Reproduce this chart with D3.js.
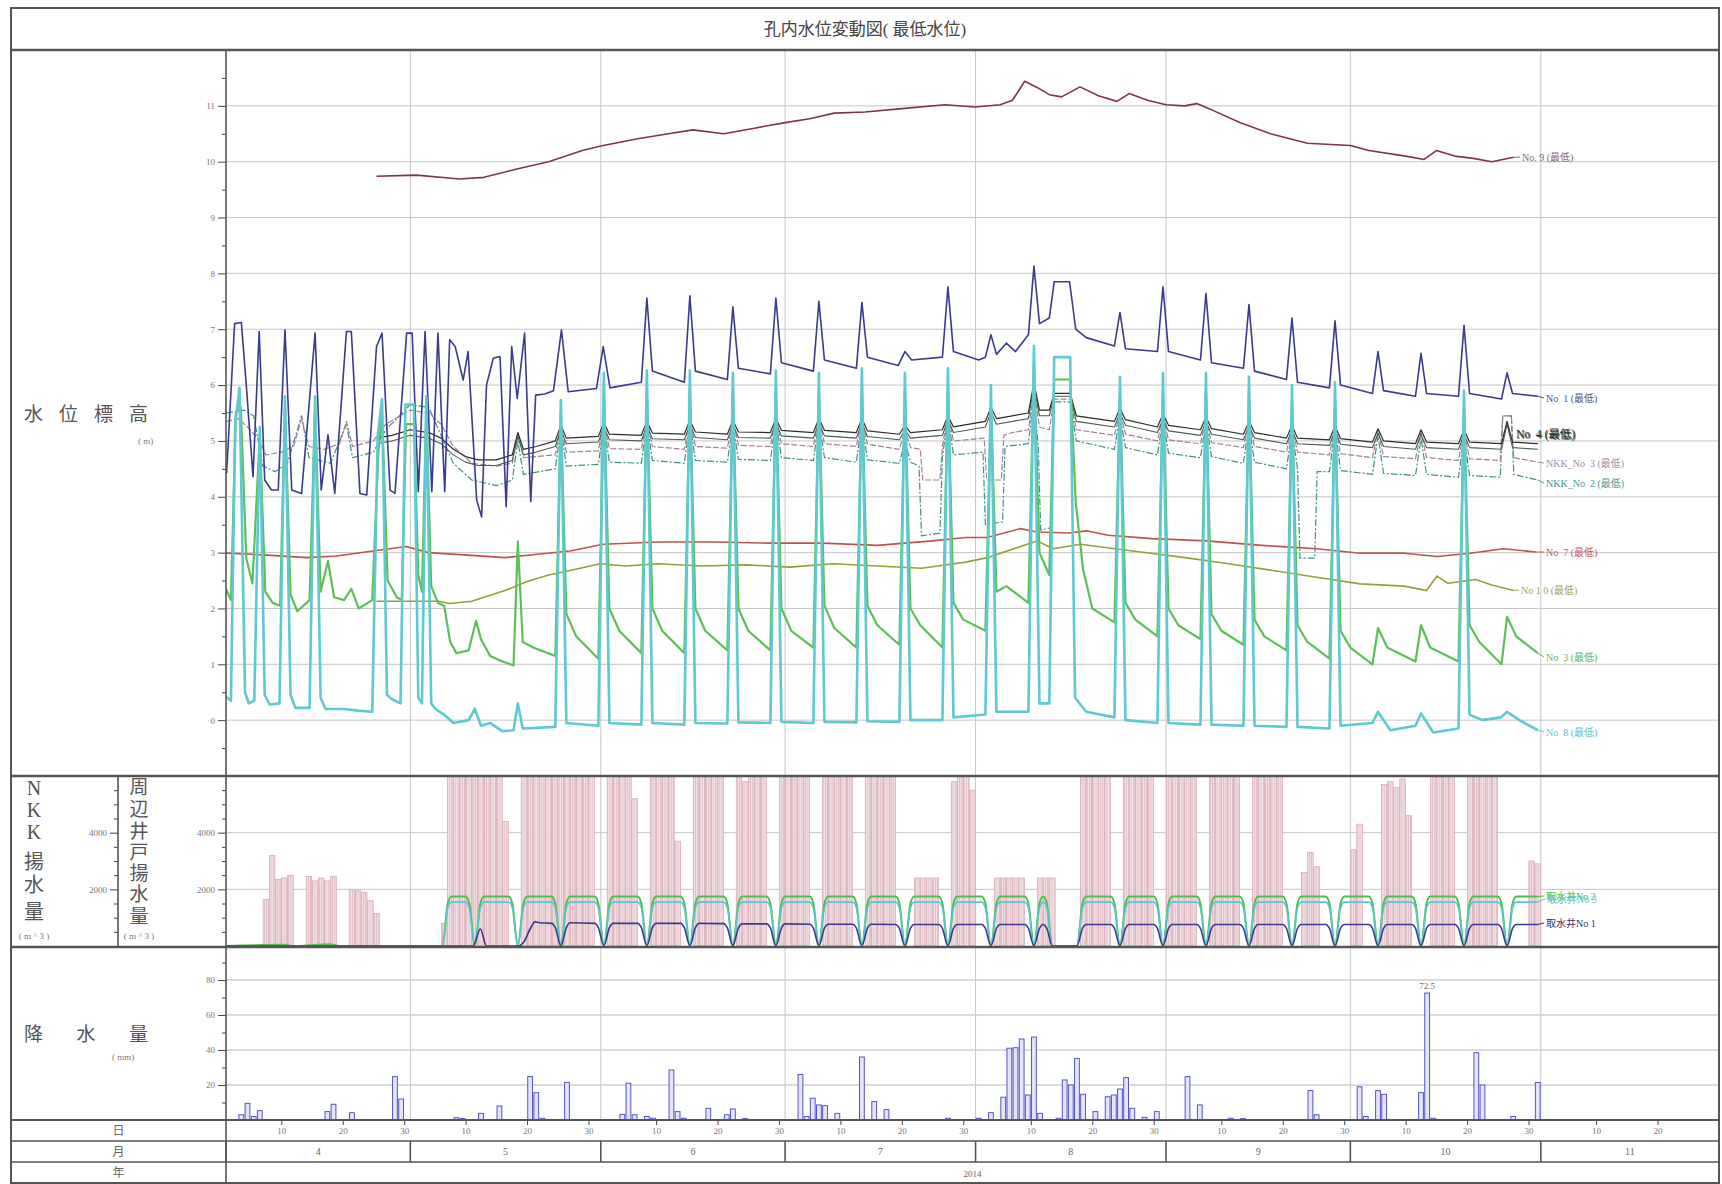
<!DOCTYPE html>
<html>
<head>
<meta charset="utf-8">
<script src="https://cdn.jsdelivr.net/npm/d3@7"></script>
<style>
  body { margin: 0; background: #fff; }
  svg text { font-family: "Liberation Serif", "Noto Sans CJK JP", serif; }
  .lbl { white-space: pre; }
</style>
</head>
<body>
<div id="chart"></div>
<script>
const topTicks = [0, 1, 2, 3, 4, 5, 6, 7, 8, 9, 10, 11];
const topMinor = [-0.5, 0.5, 1.5, 2.5, 3.5, 4.5, 5.5, 6.5, 7.5, 8.5, 9.5, 10.5, 11.5];
const midTicks = [2000, 4000];
const midMinor = [500, 1000, 1500, 2500, 3000, 3500, 4500, 5000, 5500];
const rainTicks = [20, 40, 60, 80];
const rainMinor = [10, 30, 50, 70, 90];
const dayLabels = [10, 20, 30];
const yearLabel = '2014';

const no9 = [[24.5,9.74],[31,9.76],[38,9.69],[42,9.72],[47,9.86],[52.5,10.0],[58,10.2],[61,10.28],[67,10.41],[72,10.5],[76,10.57],[81,10.5],[86,10.6],[91,10.7],[95,10.77],[99,10.87],[104,10.89],[110,10.95],[117,11.02],[122,10.98],[126,11.02],[128,11.1],[130,11.44],[132,11.33],[134,11.2],[136,11.16],[139,11.34],[142,11.18],[145,11.08],[147,11.22],[150,11.1],[153,11.02],[156,11.0],[158,11.04],[160,10.95],[165,10.7],[170,10.5],[176,10.33],[183,10.29],[186,10.2],[192,10.1],[195,10.04],[197,10.2],[200,10.1],[203,10.06],[206,10.0],[209.6,10.08]];

const no1 = [[0.1,4.42],[1.4,7.1],[2.5,7.12],[3.3,6.0],[4.4,4.36],[5.4,6.96],[6.3,4.3],[7.4,4.12],[8.5,4.12],[9.6,6.99],[10.7,4.12],[12.3,4.06],[14.5,6.93],[15.5,4.12],[16.6,5.11],[17.7,4.06],[19.6,6.96],[20.4,6.96],[21.8,4.06],[22.9,4.03],[24.5,6.69],[25.4,6.93],[26.7,4.12],[27.5,4.06],[29.4,6.93],[30.3,6.93],[31.3,4.09],[32.4,6.96],[33.5,4.09],[34.5,6.93],[35.6,4.09],[36.4,6.81],[37.3,6.69],[38.6,6.09],[39.4,6.6],[40.8,3.94],[41.6,3.64],[42.4,6.0],[43.5,6.48],[44.6,6.51],[45.6,3.82],[46.5,6.69],[47.4,5.76],[48.6,6.93],[49.6,3.91],[50.4,5.82],[51.9,5.84],[53.3,5.9],[54.6,6.99],[55.7,5.88],[60.3,5.94],[61.4,6.69],[62.5,5.95],
  [67.6,6.05],[68.5,7.56],[69.4,6.25],[74.6,6.05],[75.5,7.6],[76.4,6.25],[81.6,6.1],[82.5,7.4],[83.4,6.3],[88.6,6.2],[89.5,7.56],[90.4,6.4],[95.6,6.25],[96.5,7.5],[97.4,6.45],[102.6,6.3],[103.5,7.48],[104.4,6.5],[109.4,6.35],[110.5,6.6],[111.6,6.45],[116.6,6.5],[117.5,7.76],[118.4,6.6],
  [122.5,6.45],[123.6,6.5],[124.5,6.9],[125.4,6.55],[127,6.75],[128.5,6.6],[130.6,6.9],[131.5,8.13],[132.4,7.1],[134,7.2],[134.8,7.85],[137.3,7.85],[138.3,7.0],[140,6.85],
  [144.6,6.7],[145.5,7.3],[146.4,6.65],[151.6,6.6],[152.5,7.76],[153.4,6.6],[158.6,6.45],[159.5,7.64],[160.4,6.4],[165.6,6.3],[166.5,7.44],[167.4,6.25],[172.6,6.1],[173.5,7.2],[174.4,6.05],[179.6,5.95],[180.5,7.15],[181.4,6.0],[186.6,5.85],[187.5,6.6],[188.4,5.9],[193.6,5.8],[194.5,6.57],[195.4,5.85],[200.6,5.8],[201.5,7.07],[202.4,5.85],[207.6,5.75],[208.5,6.22],[209.4,5.85],[213.5,5.8]];

const no4 = [[24.5,5.05],[27,5.1],[30,5.2],[33,5.15],[35,5.05],[37,4.85],[39,4.72],[41,4.66],[44,4.66],[46.6,4.75],[47.5,5.15],[48.4,4.85],[50.5,4.9],[53.6,5.0],[54.5,5.28],[55.4,5.05],
  [60.6,5.08],[61.5,5.33],[62.4,5.12],[67.6,5.1],[68.5,5.35],[69.4,5.14],[74.6,5.12],[75.5,5.37],[76.4,5.16],[81.6,5.12],[82.5,5.37],[83.4,5.16],[88.6,5.15],[89.5,5.4],[90.4,5.19],[95.6,5.15],[96.5,5.4],[97.4,5.19],[102.6,5.15],[103.5,5.4],[104.4,5.18],[109.6,5.12],[110.5,5.28],[111.4,5.15],[116.6,5.2],[117.5,5.45],[118.4,5.25],[123.6,5.35],[124.5,5.6],[125.4,5.4],[130.6,5.5],[131.5,6.05],[132.4,5.55],[134,5.55],[134.8,5.85],[137.4,5.85],[138.4,5.45],
  [144.6,5.35],[145.5,5.58],[146.4,5.38],[151.6,5.25],[152.5,5.48],[153.4,5.28],[158.6,5.2],[159.5,5.43],[160.4,5.22],[165.6,5.12],[166.5,5.35],[167.4,5.15],[172.6,5.05],[173.5,5.28],[174.4,5.05],[179.6,5.02],[180.5,5.27],[181.4,5.04],[186.6,4.98],[187.5,5.22],[188.4,5.0],[193.6,4.95],[194.5,5.2],[195.4,4.98],[200.6,4.95],[201.5,5.2],[202.4,4.98],[207.6,4.95],[208.5,5.35],[209.4,4.98],[213.5,4.95]];

const no5 = [[24.5,4.95],[27,5.0],[30,5.1],[33,5.05],[35,4.95],[37,4.75],[39,4.62],[41,4.56],[44,4.56],[46.6,4.65],[47.5,5.08],[48.4,4.75],[50.5,4.8],[53.6,4.9],[54.5,5.2],[55.4,4.95],
  [60.6,4.98],[61.5,5.25],[62.4,5.02],[67.6,5.0],[68.5,5.27],[69.4,5.04],[74.6,5.02],[75.5,5.29],[76.4,5.06],[81.6,5.02],[82.5,5.29],[83.4,5.06],[88.6,5.05],[89.5,5.32],[90.4,5.09],[95.6,5.05],[96.5,5.32],[97.4,5.09],[102.6,5.05],[103.5,5.32],[104.4,5.08],[109.6,5.02],[110.5,5.2],[111.4,5.05],[116.6,5.1],[117.5,5.38],[118.4,5.15],[123.6,5.25],[124.5,5.52],[125.4,5.3],[130.6,5.4],[131.5,5.98],[132.4,5.45],[134,5.45],[134.8,5.8],[137.4,5.8],[138.4,5.35],
  [144.6,5.25],[145.5,5.5],[146.4,5.28],[151.6,5.15],[152.5,5.4],[153.4,5.18],[158.6,5.1],[159.5,5.35],[160.4,5.12],[165.6,5.02],[166.5,5.27],[167.4,5.05],[172.6,4.95],[173.5,5.2],[174.4,4.95],[179.6,4.92],[180.5,5.19],[181.4,4.94],[186.6,4.88],[187.5,5.14],[188.4,4.9],[193.6,4.85],[194.5,5.12],[195.4,4.88],[200.6,4.85],[201.5,5.12],[202.4,4.88],[207.6,4.85],[208.5,5.3],[209.4,4.88],[213.5,4.85]];

const nkk3 = [[0,5.35],[2,5.4],[3.5,5.25],[5.5,5.0],[6.5,4.75],[9,4.8],[11,4.9],[12.3,5.4],[13.5,4.9],[16,4.85],[18.5,4.95],[19.6,5.35],[20.6,4.9],[24,5.0],[26,5.3],[30,5.55],[33,5.5],[35,5.3],[37,4.9],[40,4.6],[44,4.55],[46.6,4.6],[47.5,5.15],[48.4,4.7],[53.6,4.75],[54.5,5.3],[55.4,4.8],
  [60.6,4.82],[61.5,5.35],[62.4,4.86],[67.6,4.85],[68.5,5.4],[69.4,4.9],[74.6,4.85],[75.5,5.4],[76.4,4.9],[81.6,4.87],[82.5,5.38],[83.4,4.92],[88.6,4.9],[89.5,5.42],[90.4,4.95],[95.6,4.9],[96.5,5.42],[97.4,4.95],[102.6,4.9],[103.5,5.4],[104.4,4.94],[109.6,4.85],[110.5,5.2],[111.4,4.88],[113,4.85],[113.4,4.3],[116.2,4.3],[116.6,4.9],[117.5,5.5],[118.4,5.0],
  [123.4,5.05],[123.8,4.3],[126.2,4.3],[126.6,5.1],[128,5.15],[130.6,5.2],[131.5,5.9],[132.4,5.25],[134,5.2],[134.8,5.75],[137.4,5.75],[138.4,5.2],
  [144.6,5.1],[145.5,5.5],[146.4,5.12],[151.6,5.0],[152.5,5.45],[153.4,5.02],[158.6,4.95],[159.5,5.4],[160.4,4.97],[165.6,4.88],[166.5,5.35],[167.4,4.9],[172.6,4.8],[173.5,5.25],[174.4,4.8],[179.6,4.75],[180.5,5.3],[181.4,4.77],[186.6,4.7],[187.5,5.2],[188.4,4.72],[193.6,4.68],[194.5,5.15],[195.4,4.7],[200.6,4.65],[201.5,5.2],[202.4,4.68],[207.4,4.65],[207.8,5.45],[209.2,5.45],[209.6,4.7],[213.5,4.62]];

const nkk2 = [[0,5.5],[3,5.55],[4.5,5.45],[6,4.55],[8,4.45],[10,4.6],[12.3,5.45],[13.5,4.7],[17,4.6],[19.6,5.3],[20.6,4.7],[24,4.8],[26,5.2],[30,5.65],[33,5.6],[35,5.1],[37,4.6],[40,4.3],[44,4.2],[46.6,4.3],[47.5,5.0],[48.4,4.4],[53.6,4.5],[54.5,5.25],[55.4,4.55],
  [60.6,4.58],[61.5,5.3],[62.4,4.62],[67.6,4.6],[68.5,5.35],[69.4,4.65],[74.6,4.6],[75.5,5.35],[76.4,4.65],[81.6,4.62],[82.5,5.3],[83.4,4.67],[88.6,4.65],[89.5,5.38],[90.4,4.7],[95.6,4.65],[96.5,5.38],[97.4,4.7],[102.6,4.62],[103.5,5.35],[104.4,4.66],[109.6,4.6],[110.5,5.0],[111.4,4.62],[112.8,4.55],[113.2,3.3],[116.2,3.35],[116.6,4.7],[117.5,5.45],[118.4,4.75],
  [123.2,4.8],[123.6,3.5],[126.4,3.55],[126.8,4.9],[130.6,4.95],[131.5,5.8],[132.2,4.9],[132.6,3.4],[134.4,3.45],[134.8,5.7],[137.4,5.7],[138.4,5.0],
  [144.6,4.85],[145.5,5.45],[146.4,4.88],[151.6,4.75],[152.5,5.4],[153.4,4.78],[158.6,4.7],[159.5,5.35],[160.4,4.72],[165.6,4.6],[166.5,5.3],[167.4,4.62],[172.6,4.5],[173.5,5.2],[174.4,4.5],[174.8,2.9],[177.2,2.9],[177.6,4.45],[179.6,4.45],[180.5,5.25],[181.4,4.47],[186.6,4.4],[187.5,5.1],[188.4,4.42],[193.6,4.38],[194.5,5.05],[195.4,4.4],[200.6,4.35],[201.5,5.1],[202.4,4.38],[207.4,4.35],[207.8,5.45],[209.2,5.45],[209.6,4.4],[213.5,4.3]];

const no7 = [[0,2.99],[6,2.96],[13.2,2.91],[18,2.94],[23.9,3.03],[29.3,3.11],[32.9,3.0],[40,2.95],[45.4,2.91],[50.7,2.97],[56,3.03],[61.4,3.15],[70.4,3.19],[79.3,3.19],[88.2,3.17],[97.1,3.17],[106,3.13],[115,3.21],[120.4,3.27],[123.9,3.27],[129.3,3.43],[132,3.37],[137.3,3.35],[140,3.39],[143.6,3.31],[150.7,3.25],[159.6,3.21],[168.6,3.13],[177.5,3.07],[184.6,2.99],[191.8,2.99],[197.1,2.93],[202.5,2.99],[207.9,3.07],[213.2,3.01]];

const no10 = [[24.5,2.13],[34.6,2.13],[36.4,2.09],[40,2.13],[45.4,2.32],[48.9,2.48],[52.5,2.6],[56,2.68],[60.9,2.8],[65,2.76],[70.4,2.8],[77.5,2.76],[84.6,2.78],[91.8,2.74],[98.9,2.8],[106,2.76],[113.2,2.72],[120.4,2.83],[123.9,2.91],[129.3,3.11],[132,3.21],[134.6,3.07],[139.1,3.15],[141.8,3.11],[148.9,3.01],[156.1,2.91],[163.2,2.8],[170.4,2.68],[177.5,2.56],[184.6,2.44],[191.8,2.4],[195.4,2.32],[197.1,2.58],[198.9,2.45],[203.4,2.52],[206,2.42],[209.6,2.32]];

const no3 = [[0,2.35],[0.8,2.15],[1.6,5.5],[2.4,5.6],[3.3,2.9],[4.3,2.45],[5.5,5.1],[6.4,2.3],[7.6,2.1],[8.8,2.05],[9.6,5.6],[10.5,2.25],[11.6,1.95],[13.6,2.15],[14.5,5.6],[15.4,2.3],[16.6,2.85],[17.6,2.2],[19.2,2.15],[20.4,2.35],[21.6,2.0],[23.8,2.15],[24.8,4.8],[25.4,5.5],[26.3,2.5],[27.8,2.2],[28.6,2.15],[29.3,5.3],[30.6,5.3],[31.3,2.6],[31.9,2.3],[32.6,5.6],[33.4,2.4],[34.5,2.1],
  [35.5,2.05],[36.5,1.4],[37.5,1.2],[39.5,1.25],[40.7,1.78],[41.5,1.45],[43,1.15],[45,1.05],[46.8,0.98],[47.5,3.2],[48.3,1.4],[50,1.3],[53.6,1.15],[54.5,5.5],[55.4,1.9],[57,1.5],[60.6,1.1],
  [61.5,5.9],[62.4,2.0],[64,1.6],[67.6,1.2],[68.5,5.9],[69.4,2.0],[71,1.6],[74.6,1.2],[75.5,5.9],[76.4,2.0],[78,1.6],[81.6,1.25],[82.5,5.9],[83.4,2.0],[85,1.6],[88.6,1.25],[89.5,5.9],[90.4,2.0],[92,1.6],[95.6,1.3],[96.5,5.9],[97.4,2.05],[99,1.65],[102.6,1.3],[103.5,5.9],[104.4,2.05],[106,1.7],[109.6,1.35],[110.5,5.9],[111.4,2.0],[113,1.7],[116.6,1.3],[117.5,6.0],[118.4,2.1],[120,1.8],[123.6,1.6],
  [124.5,5.7],[125.4,2.3],[127,2.4],[130.6,2.1],[131.5,6.4],[132.4,3.0],[134,2.6],[134.8,6.1],[137.4,6.1],[138.3,3.9],[139.5,2.7],[141,2.0],[144.6,1.75],
  [145.5,5.8],[146.4,2.1],[148,1.8],[151.6,1.5],[152.5,5.9],[153.4,2.0],[155,1.7],[158.6,1.45],[159.5,5.9],[160.4,1.9],[162,1.6],[165.6,1.35],[166.5,5.8],[167.4,1.8],[169,1.5],[172.6,1.25],[173.5,5.7],[174.4,1.7],[176,1.4],[179.6,1.1],[180.5,5.7],[181.4,1.6],[183,1.3],[186.6,1.0],
  [187.5,1.65],[189,1.3],[193.6,1.05],[194.5,1.7],[196,1.3],[200.6,1.05],[201.5,5.6],[202.4,1.7],[204,1.4],[207.6,1.0],[208.5,1.85],[210,1.5],[213.5,1.2]];

const no8 = [[0,0.42],[0.8,0.35],[1.5,5.3],[2.2,5.95],[3.1,0.5],[3.7,0.3],[4.6,0.35],[5.5,5.25],[6.3,0.45],[7.1,0.28],[8.7,0.3],[9.6,5.8],[10.5,0.45],[11.3,0.22],[13.6,0.22],[14.5,5.8],[15.4,0.4],[16.2,0.2],[19.2,0.2],[21.5,0.17],[23.8,0.15],[24.7,5.1],[25.4,5.75],[26.2,0.45],[27.1,0.37],[28.4,0.3],[29.2,5.65],[30.6,5.65],[31.3,0.4],[31.9,0.3],[32.6,5.8],[33.4,0.3],[34.1,0.2],
  [35.5,0.1],[37,-0.05],[39.5,0.0],[40.5,0.2],[41.5,-0.1],[43,-0.05],[45,-0.2],[46.8,-0.18],[47.5,0.3],[48.3,-0.15],[53.6,-0.12],[54.5,5.73],[55.4,-0.05],
  [60.6,-0.1],[61.5,6.22],[62.4,-0.05],[67.6,-0.08],[68.5,6.26],[69.4,-0.05],[74.6,-0.08],[75.5,6.26],[76.4,-0.05],[81.6,-0.06],[82.5,6.22],[83.4,-0.04],[88.6,-0.05],[89.5,6.26],[90.4,-0.03],[95.6,-0.05],[96.5,6.22],[97.4,-0.03],[102.6,-0.04],[103.5,6.3],[104.4,-0.02],[109.6,-0.03],[110.5,6.22],[111.4,0.0],[116.6,0.0],[117.5,6.3],[118.4,0.05],
  [123.6,0.1],[124.5,6.0],[125.4,0.15],[130.6,0.15],[131.5,6.7],[132.4,0.3],[134,0.3],[134.8,6.5],[137.4,6.5],[138.2,0.4],[140,0.15],
  [144.6,0.05],[145.5,6.15],[146.4,0.0],[151.6,-0.05],[152.5,6.22],[153.4,-0.05],[158.6,-0.08],[159.5,6.22],[160.4,-0.08],[165.6,-0.1],[166.5,6.15],[167.4,-0.1],[172.6,-0.12],[173.5,6.0],[174.4,-0.12],[179.6,-0.15],[180.5,6.05],[181.4,-0.1],
  [186.6,-0.05],[187.5,0.15],[189.5,-0.18],[193.6,-0.1],[194.5,0.12],[196.5,-0.22],[200.6,-0.15],[201.5,5.9],[202.4,0.1],[204.5,0.0],[207.5,0.05],[208.5,0.15],[210.5,0.0],[213.5,-0.18]];

// 周辺井戸揚水量, daily, Apr 1 .. Oct 31
const wellPumping = [
  0,0,0,0,0,0,1650,3200,2350,2400,2500,0,0,2450,2300,2400,2300,2450,0,0,2000,1950,1900,1600,1150,0,0,0,0,0,
  0,0,0,0,0,800,6000,6000,6000,6000,6000,6000,6000,6000,6000,4400,0,0,6000,6000,6000,6000,6000,6000,6000,6000,6000,6000,6000,6000,0,
  0,6000,6000,6000,6000,5200,0,0,6000,6000,6000,6000,3700,0,0,6000,6000,6000,6000,6000,0,0,6000,5800,6000,6000,6000,0,0,6000,
  6000,6000,6000,6000,0,0,6000,6000,6000,6000,6000,0,0,6000,6000,6000,6000,6000,0,0,0,2400,2400,2400,2400,0,0,5800,6000,6000,5500,
  0,0,0,2400,2400,2400,2400,2400,0,0,2400,2400,2400,0,0,0,0,6000,6000,6000,6000,6000,0,0,6000,6000,6000,6000,6000,0,0,
  6000,6000,6000,6000,6000,0,0,6000,6000,6000,6000,6000,0,0,6000,6000,6000,6000,6000,0,0,0,2600,3300,2800,0,0,0,0,0,
  3400,4300,0,0,0,5700,5800,5600,5900,4600,0,0,0,6000,6000,6000,6000,0,0,6000,6000,6000,6000,6000,0,0,0,0,0,3000,2900];

const intakeNo2 = [[0,0],[9.5,40],[11,0],[17,60],[18.5,0],[35.2,0],[36.1,1500],[36.7,1750],
  [39,1750],[39.6,1500],[40.5,0],[41.4,1500],[42,1750],[46,1750],[46.6,1500],[47.5,0],[48.4,1500],[49,1750],
  [53,1750],[53.6,1500],[54.5,0],[55.4,1500],[56,1750],[60,1750],[60.6,1500],[61.5,0],[62.4,1500],[63,1750],
  [67,1750],[67.6,1500],[68.5,0],[69.4,1500],[70,1750],[74,1750],[74.6,1500],[75.5,0],[76.4,1500],[77,1750],
  [81,1750],[81.6,1500],[82.5,0],[83.4,1500],[84,1750],[88,1750],[88.6,1500],[89.5,0],[90.4,1500],[91,1750],
  [95,1750],[95.6,1500],[96.5,0],[97.4,1500],[98,1750],[102,1750],[102.6,1500],[103.5,0],[104.4,1500],[105,1750],
  [109,1750],[109.6,1500],[110.5,0],[111.4,1500],[112,1750],[116,1750],[116.6,1500],[117.5,0],[118.4,1500],[119,1750],
  [123,1750],[123.6,1500],[124.5,0],[125.4,1500],[126,1750],[130,1750],[130.6,1500],[131.5,0],[132.4,1500],[133,1750],
  [133.6,1500],[134.5,0],[138.5,0],[139.4,1500],[140,1750],[144,1750],[144.6,1500],[145.5,0],[146.4,1500],[147,1750],
  [151,1750],[151.6,1500],[152.5,0],[153.4,1500],[154,1750],[158,1750],[158.6,1500],[159.5,0],[160.4,1500],[161,1750],
  [165,1750],[165.6,1500],[166.5,0],[167.4,1500],[168,1750],[172,1750],[172.6,1500],[173.5,0],[174.4,1500],[175,1750],
  [179,1750],[179.6,1500],[180.5,0],[181.4,1500],[182,1750],[186,1750],[186.6,1500],[187.5,0],[188.4,1500],[189,1750],
  [193,1750],[193.6,1500],[194.5,0],[195.4,1500],[196,1750],[200,1750],[200.6,1500],[201.5,0],[202.4,1500],[203,1750],
  [207,1750],[207.6,1500],[208.5,0],[209.4,1500],[210,1750],[213.5,1750]];

const intakeNo3 = [[0,0],[35.2,0],[36.1,1350],[36.7,1550],
  [39,1550],[39.6,1350],[40.5,0],[41.4,1350],[42,1550],[46,1550],[46.6,1350],[47.5,0],[48.4,1350],[49,1550],
  [53,1550],[53.6,1350],[54.5,0],[55.4,1350],[56,1550],[60,1550],[60.6,1350],[61.5,0],[62.4,1350],[63,1550],
  [67,1550],[67.6,1350],[68.5,0],[69.4,1350],[70,1550],[74,1550],[74.6,1350],[75.5,0],[76.4,1350],[77,1550],
  [81,1550],[81.6,1350],[82.5,0],[83.4,1350],[84,1550],[88,1550],[88.6,1350],[89.5,0],[90.4,1350],[91,1550],
  [95,1550],[95.6,1350],[96.5,0],[97.4,1350],[98,1550],[102,1550],[102.6,1350],[103.5,0],[104.4,1350],[105,1550],
  [109,1550],[109.6,1350],[110.5,0],[111.4,1350],[112,1550],[116,1550],[116.6,1350],[117.5,0],[118.4,1350],[119,1550],
  [123,1550],[123.6,1350],[124.5,0],[125.4,1350],[126,1550],[130,1550],[130.6,1350],[131.5,0],[132.4,1350],[133,1550],
  [133.6,1350],[134.5,0],[138.5,0],[139.4,1350],[140,1550],[144,1550],[144.6,1350],[145.5,0],[146.4,1350],[147,1550],
  [151,1550],[151.6,1350],[152.5,0],[153.4,1350],[154,1550],[158,1550],[158.6,1350],[159.5,0],[160.4,1350],[161,1550],
  [165,1550],[165.6,1350],[166.5,0],[167.4,1350],[168,1550],[172,1550],[172.6,1350],[173.5,0],[174.4,1350],[175,1550],
  [179,1550],[179.6,1350],[180.5,0],[181.4,1350],[182,1550],[186,1550],[186.6,1350],[187.5,0],[188.4,1350],[189,1550],
  [193,1550],[193.6,1350],[194.5,0],[195.4,1350],[196,1550],[200,1550],[200.6,1350],[201.5,0],[202.4,1350],[203,1550],
  [207,1550],[207.6,1350],[208.5,0],[209.4,1350],[210,1550],[213.5,1550]];

const intakeNo1 = [[0,0],[40.2,0],[41.4,600],[42.4,0],[47.5,0],[48.5,150],[49.5,600],[50.3,850],[51,820],
  [53,800],[53.6,650],[54.5,0],[55.4,650],[56,820],[60,800],[60.6,650],[61.5,0],[62.4,650],[63,800],
  [67,800],[67.6,650],[68.5,0],[69.4,650],[70,800],[74,800],[74.6,650],[75.5,0],[76.4,650],[77,800],
  [81,790],[81.6,640],[82.5,0],[83.4,640],[84,780],[88,780],[88.6,640],[89.5,0],[90.4,640],[91,780],
  [95,770],[95.6,630],[96.5,0],[97.4,630],[98,770],[102,770],[102.6,630],[103.5,0],[104.4,630],[105,770],
  [109,760],[109.6,620],[110.5,0],[111.4,620],[112,760],[116,760],[116.6,620],[117.5,0],[118.4,620],[119,760],
  [123,760],[123.6,620],[124.5,0],[125.4,620],[126,760],[130,760],[130.6,620],[131.5,0],[132.4,620],[133,760],
  [133.6,620],[134.5,0],[138.5,0],[139.4,620],[140,760],[144,760],[144.6,620],[145.5,0],[146.4,620],[147,760],
  [151,760],[151.6,620],[152.5,0],[153.4,620],[154,760],[158,760],[158.6,620],[159.5,0],[160.4,620],[161,760],
  [165,760],[165.6,620],[166.5,0],[167.4,620],[168,760],[172,760],[172.6,620],[173.5,0],[174.4,620],[175,760],
  [179,760],[179.6,620],[180.5,0],[181.4,620],[182,760],[186,760],[186.6,620],[187.5,0],[188.4,620],[189,760],
  [193,760],[193.6,620],[194.5,0],[195.4,620],[196,760],[200,760],[200.6,620],[201.5,0],[202.4,620],[203,760],
  [207,760],[207.6,620],[208.5,0],[209.4,620],[210,760],[213.5,760]];

// 降水量 (mm), non-zero days only
const rain = [[2,3],[3,9.5],[4,2],[5,5.3],[16,4.8],[17,9],[20,4.2],[27,24.8],[28,12],[37,1.3],[38,0.8],[41,3.8],[44,8],[49,24.8],[50,15.6],[51,1],[55,21.5],[64,3.2],[65,21],[66,3],[68,2],[69,1],[72,28.6],[73,4.8],[74,1],[78,6.7],[81,3],[82,6.3],[84,0.8],[93,26],[94,2],[95,12.4],[96,8.6],[97,8.2],[99,3.8],[103,36],[105,10.5],[107,5.9],[117,1],[122,1],[124,4.2],[126,13],[127,41],[128,41.3],[129,46.3],[130,14.3],[131,47.4],[132,3.8],[135,1],[136,22.9],[137,20],[138,35.2],[139,14.7],[141,4.8],[143,13.3],[144,14.3],[145,17.7],[146,24.2],[147,6.7],[149,1.5],[151,4.8],[156,24.8],[158,8.6],[163,1],[165,0.8],[176,16.8],[177,3],[184,19],[185,2],[187,16.8],[188,14.7],[194,15.6],[195,72.5],[196,1],[203,38.5],[204,20],[209,2],[213,21.4]];

// ---- layout ----
const W = 1722, H = 1184;
const L = 226, R = 1719, FX = 11, FY = 8;
const T0 = Date.UTC(2014, 3, 1);
const at = d => new Date(T0 + d * 864e5);
const x = d3.scaleUtc().domain([at(0), at(243)]).range([L, R]);
const dayW = x(at(1)) - x(at(0));
const yTop = d3.scaleLinear().domain([-1, 12]).range([776, 50]);
const yMid = d3.scaleLinear().domain([0, 6000]).range([946, 776]);
const yRain = d3.scaleLinear().domain([0, 100]).range([1120, 945]);

const svg = d3.select('#chart').append('svg').attr('width', W).attr('height', H);
svg.append('rect').attr('width', W).attr('height', H).attr('fill', '#fff');

const defs = svg.append('defs');
[['clipTop', 50, 776], ['clipMid', 776, 947], ['clipRain', 947, 1120]].forEach(([id, y0, y1]) => {
  defs.append('clipPath').attr('id', id).append('rect')
    .attr('x', L).attr('y', y0).attr('width', R - L).attr('height', y1 - y0);
});
const pat = defs.append('pattern').attr('id', 'pinkHatch').attr('patternUnits', 'userSpaceOnUse')
  .attr('width', 2.2).attr('height', 10);
pat.append('rect').attr('width', 2.2).attr('height', 10).attr('fill', '#f3e2e6');
pat.append('line').attr('x1', 0.5).attr('x2', 0.5).attr('y1', 0).attr('y2', 10)
  .attr('stroke', '#d6aeb7').attr('stroke-width', 0.7);

// ---- grid ----
const grid = svg.append('g').attr('stroke', '#c6c6c6').attr('stroke-width', 1);
topTicks.forEach(v => grid.append('line').attr('x1', L).attr('x2', R).attr('y1', yTop(v)).attr('y2', yTop(v)));
midTicks.forEach(v => grid.append('line').attr('x1', L).attr('x2', R).attr('y1', yMid(v)).attr('y2', yMid(v)));
rainTicks.forEach(v => grid.append('line').attr('x1', L).attr('x2', R).attr('y1', yRain(v)).attr('y2', yRain(v))
  .attr('stroke', '#cfcfcf').attr('stroke-width', 1.6));
const months = d3.utcMonth.range(at(0), at(244));
months.slice(1).forEach(m => grid.append('line').attr('x1', x(m)).attr('x2', x(m)).attr('y1', 50).attr('y2', 1120));

// ---- top panel: water levels ----
const lineTop = d3.line().x(p => x(at(p[0]))).y(p => yTop(p[1]));
const topSeries = [
  { data: no9, color: '#7d3352', w: 1.6 },
  { data: no7, color: '#c2504c', w: 1.6 },
  { data: no10, color: '#9c9c3a', w: 1.6 },
  { data: nkk2, color: '#3f8f88', w: 1.2, dash: '7,2,2,2' },
  { data: nkk3, color: '#a37f9a', w: 1.2, dash: '6,2' },
  { data: no5, color: '#4a5e52', w: 1.1 },
  { data: no4, color: '#2c2c2c', w: 1.2 },
  { data: no1, color: '#3a3a8e', w: 1.6 },
  { data: no3, color: '#5cbf58', w: 2.2 },
  { data: no8, color: '#5ec9d1', w: 2.6 },
];
const gTop = svg.append('g').attr('clip-path', 'url(#clipTop)');
topSeries.forEach(s => gTop.append('path').attr('d', lineTop(s.data)).attr('fill', 'none')
  .attr('stroke', s.color).attr('stroke-width', s.w).attr('stroke-linejoin', 'round')
  .attr('stroke-dasharray', s.dash || null));

const topLabels = [
  { data: no9, text: 'No. 9 (最低)', color: '#8a6478', lx: 1522, ly: 161 },
  { data: no1, text: 'No  1 (最低)', color: '#55557a', lx: 1546, ly: 402 },
  { data: no5, text: 'No  4 (最低)', color: '#4a5e52', lx: 1517, ly: 439, size: 11.5 },
  { data: no4, text: 'No  4 (最低)', color: '#2c2c2c', lx: 1516, ly: 438, size: 11.5 },
  { data: nkk3, text: 'NKK_No  3 (最低)', color: '#a58ca8', lx: 1546, ly: 467 },
  { data: nkk2, text: 'NKK_No  2 (最低)', color: '#4a9793', lx: 1546, ly: 487 },
  { data: no7, text: 'No  7 (最低)', color: '#c25a58', lx: 1546, ly: 556 },
  { data: no10, text: 'No 1 0 (最低)', color: '#a3a352', lx: 1521, ly: 594 },
  { data: no3, text: 'No  3 (最低)', color: '#62b562', lx: 1546, ly: 661 },
  { data: no8, text: 'No  8 (最低)', color: '#62c2ca', lx: 1546, ly: 736 },
];

function addLabels(list, yScale) {
  list.forEach(s => {
    const last = s.data[s.data.length - 1];
    const ex = x(at(last[0])), ey = yScale(last[1]);
    if (s.lx > ex + 2) {
      svg.append('line').attr('x1', ex).attr('y1', ey).attr('x2', s.lx - 2).attr('y2', s.ly - 4)
        .attr('stroke', s.color).attr('stroke-width', 1);
    }
    svg.append('text').attr('class', 'lbl').attr('x', s.lx).attr('y', s.ly)
      .attr('font-size', s.size || 10).attr('fill', s.color).text(s.text);
  });
}
addLabels(topLabels, yTop);

// ---- middle panel: pumping ----
const gMid = svg.append('g').attr('clip-path', 'url(#clipMid)');
gMid.selectAll('rect.pump').data(wellPumping.map((v, i) => [i, v]).filter(d => d[1] > 0)).join('rect')
  .attr('x', d => x(at(d[0])) + 0.3).attr('width', dayW - 0.6)
  .attr('y', d => yMid(d[1])).attr('height', d => yMid(0) - yMid(d[1]))
  .attr('fill', 'url(#pinkHatch)').attr('stroke', '#d8a6b1').attr('stroke-width', 0.7);

const lineMid = d3.line().x(p => x(at(p[0]))).y(p => yMid(p[1])).curve(d3.curveMonotoneX);
const midSeries = [
  { data: intakeNo2, color: '#4cbf4c', w: 2, text: '取水井No 2', lx: 1546, ly: 900 },
  { data: intakeNo3, color: '#5cc5cf', w: 1.6, text: '取水井No 3', lx: 1547, ly: 903 },
  { data: intakeNo1, color: '#3a3a8e', w: 1.6, text: '取水井No 1', lx: 1546, ly: 927 },
];
midSeries.forEach(s => gMid.append('path').attr('d', lineMid(s.data)).attr('fill', 'none')
  .attr('stroke', s.color).attr('stroke-width', s.w));
addLabels(midSeries.map(s => Object.assign({}, s, { color: s.color === '#3a3a8e' ? '#33336a' : s.color })), yMid);

// ---- bottom panel: rainfall ----
const gRain = svg.append('g').attr('clip-path', 'url(#clipRain)');
gRain.selectAll('rect').data(rain).join('rect')
  .attr('x', d => x(at(d[0])) + dayW / 2 - 2.4).attr('width', 4.8)
  .attr('y', d => yRain(d[1])).attr('height', d => yRain(0) - yRain(d[1]))
  .attr('fill', '#e4e4f8').attr('stroke', '#5555c4').attr('stroke-width', 1);
const maxRain = rain.reduce((a, b) => (b[1] > a[1] ? b : a));
svg.append('text').attr('x', x(at(maxRain[0])) + dayW / 2).attr('y', yRain(maxRain[1]) - 4)
  .attr('text-anchor', 'middle').attr('font-size', 9).attr('fill', '#666').text(maxRain[1].toFixed(1));

// ---- axes ----
function yAxis(scale, xPos, major, minor) {
  const g = svg.append('g').attr('transform', `translate(${xPos},0)`);
  g.call(d3.axisLeft(scale).tickValues(major).tickSize(8).tickPadding(3).tickFormat(d3.format('d')));
  const gm = svg.append('g').attr('transform', `translate(${xPos},0)`);
  gm.call(d3.axisLeft(scale).tickValues(minor).tickSize(4).tickFormat(''));
  [g, gm].forEach(a => {
    a.select('.domain').remove();
    a.selectAll('line').attr('stroke', '#444');
    a.selectAll('text').attr('font-size', 9).attr('fill', '#777')
      .attr('font-family', '"Liberation Serif", serif');
  });
}
yAxis(yTop, L, topTicks, topMinor);
yAxis(yMid, 118, midTicks, midMinor);
yAxis(yMid, L, midTicks, midMinor);
yAxis(yRain, L, rainTicks, rainMinor);

// day ticks
const dayTicks = d3.utcDay.range(at(0), at(243)).filter(d => dayLabels.includes(d.getUTCDate()));
const gx = svg.append('g').attr('transform', 'translate(0,1120)')
  .call(d3.axisBottom(x).tickValues(dayTicks).tickFormat(d3.utcFormat('%-d')).tickSize(5).tickPadding(3));
gx.select('.domain').remove();
gx.selectAll('line').attr('stroke', '#444');
gx.selectAll('text').attr('font-size', 9).attr('fill', '#777');

// ---- frame and table lines ----
const frame = svg.append('g').attr('stroke', '#555').attr('fill', 'none');
frame.append('rect').attr('x', FX).attr('y', FY).attr('width', R - FX).attr('height', H - 1 - FY).attr('stroke-width', 2);
[[50, 2.5], [776, 2.5], [947, 2.5], [1120, 2], [1141, 1.6], [1162, 1.6]].forEach(([y, w]) =>
  frame.append('line').attr('x1', FX).attr('x2', R).attr('y1', y).attr('y2', y).attr('stroke-width', w));
frame.append('line').attr('x1', L).attr('x2', L).attr('y1', 50).attr('y2', H).attr('stroke-width', 1.6);
frame.append('line').attr('x1', 118).attr('x2', 118).attr('y1', 776).attr('y2', 947).attr('stroke-width', 1.6);
months.forEach(m => frame.append('line').attr('x1', x(m)).attr('x2', x(m)).attr('y1', 1141).attr('y2', 1162).attr('stroke-width', 1.6));

// month + year labels
months.forEach(m => {
  const end = d3.min([d3.utcMonth.offset(m, 1), at(243)]);
  svg.append('text').attr('x', (x(m) + x(end)) / 2).attr('y', 1155).attr('text-anchor', 'middle')
    .attr('font-size', 10).attr('fill', '#666').text(m.getUTCMonth() + 1);
});
svg.append('text').attr('x', (L + R) / 2).attr('y', 1177).attr('text-anchor', 'middle')
  .attr('font-size', 9).attr('fill', '#666').text(yearLabel);

// ---- texts ----
const cjk = '"Noto Sans CJK JP", sans-serif';
svg.append('text').attr('x', (FX + R) / 2).attr('y', 35).attr('text-anchor', 'middle')
  .attr('font-size', 17).attr('fill', '#444').attr('font-family', cjk).text('孔内水位変動図( 最低水位)');

svg.append('text').attr('x', 24).attr('y', 421).attr('font-size', 19).attr('fill', '#555')
  .attr('font-family', cjk).attr('textLength', 124).attr('lengthAdjust', 'spacing').text('水位標高');
svg.append('text').attr('class', 'lbl').attr('x', 138).attr('y', 444).attr('font-size', 9).attr('fill', '#777').text('( m)');

svg.append('text').attr('x', 24).attr('y', 1041).attr('font-size', 19).attr('fill', '#555')
  .attr('font-family', cjk).attr('textLength', 124).attr('lengthAdjust', 'spacing').text('降水量');
svg.append('text').attr('class', 'lbl').attr('x', 112).attr('y', 1060).attr('font-size', 9).attr('fill', '#777').text('( mm)');

const col1 = [['N', 788], ['K', 810], ['K', 832], ['揚', 862], ['水', 885], ['量', 912]];
const col2 = [['周', 787], ['辺', 809], ['井', 831], ['戸', 852], ['揚', 873], ['水', 894], ['量', 916]];
[[col1, 34, 20], [col2, 139, 19]].forEach(([col, cx, fs]) => {
  col.forEach(([ch, cy]) => svg.append('text').attr('x', cx).attr('y', cy + 7).attr('text-anchor', 'middle')
    .attr('font-size', fs).attr('fill', '#555')
    .attr('font-family', /[A-Z]/.test(ch) ? '"Liberation Serif", serif' : cjk).text(ch));
  svg.append('text').attr('class', 'lbl').attr('x', cx).attr('y', 939).attr('text-anchor', 'middle')
    .attr('font-size', 9).attr('fill', '#777').text('( m ^ 3 )');
});

[['日', 1135], ['月', 1156], ['年', 1177]].forEach(([t, y]) =>
  svg.append('text').attr('x', (FX + L) / 2).attr('y', y).attr('text-anchor', 'middle')
    .attr('font-size', 12).attr('fill', '#666').attr('font-family', cjk).text(t));
</script>
</body>
</html>
